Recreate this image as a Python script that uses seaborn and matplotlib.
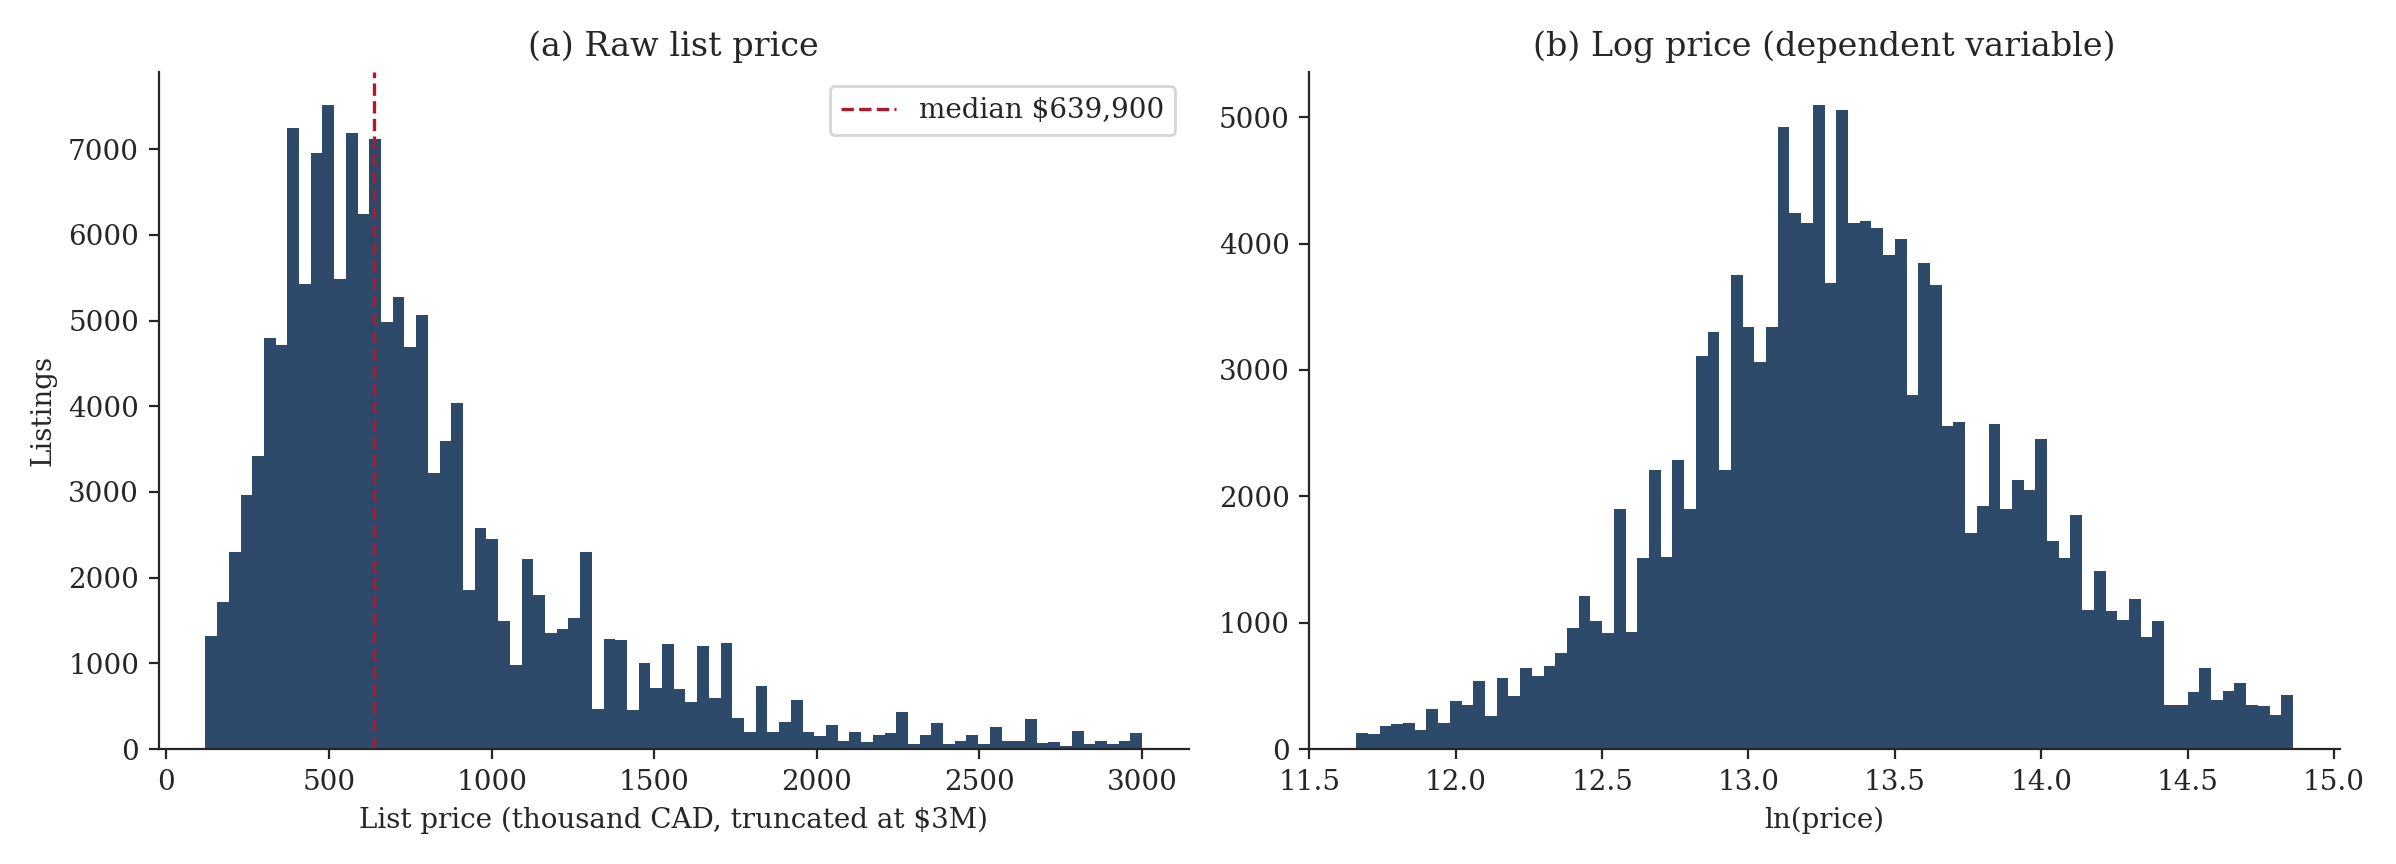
import numpy as np
import pandas as pd
import matplotlib
matplotlib.use("Agg")
import matplotlib.pyplot as plt
import seaborn as sns

# Raw list price histogram (thousand CAD), bins of 36k from 120k to 3M
raw_start, raw_width = 120, 36
raw_counts = [1320, 1720, 2300, 2960, 3420, 4800, 4720, 7250, 5430, 6950,
              7520, 5490, 7190, 6240, 7120, 4980, 5280, 4690, 5060, 3220,
              3600, 4040, 1860, 2580, 2450, 1500, 980, 2220, 1800, 1360,
              1400, 1530, 2300, 470, 1280, 1270, 460, 1010, 710, 1230,
              700, 550, 1200, 600, 1240, 360, 200, 740, 200, 320,
              570, 200, 150, 280, 100, 200, 80, 170, 190, 430,
              60, 170, 310, 60, 90, 170, 60, 260, 90, 100,
              350, 70, 80, 40, 210, 60, 100, 60, 90, 190]
median_price = 639.9

# Log price histogram
log_start, log_width = 11.66, 0.04
log_counts = [130, 120, 180, 200, 210, 150, 320, 210, 380, 350,
              540, 260, 560, 420, 640, 580, 660, 760, 960, 1210,
              1010, 920, 1900, 930, 1510, 2210, 1520, 2290, 1900, 3110,
              3300, 2210, 3750, 3340, 3060, 3340, 4920, 4240, 4160, 5100,
              3690, 5060, 4160, 4180, 4120, 3910, 4040, 2800, 3850, 3670,
              2560, 2590, 1710, 1920, 2570, 1900, 2130, 2050, 2450, 1650,
              1510, 1850, 1100, 1410, 1090, 1020, 1190, 890, 1010, 350,
              350, 450, 640, 390, 460, 520, 350, 340, 270, 430]

BAR = "#2e4a6b"
RED = "#b2182b"

sns.set_style("ticks")
plt.rcParams["font.family"] = ["DejaVu Serif"]
plt.rcParams["font.size"] = 10


def hist_panel(ax, start, width, counts):
    n = len(counts)
    centers = start + width * (np.arange(n) + 0.5)
    df = pd.DataFrame({"x": centers, "w": np.asarray(counts, dtype=float)})
    sns.histplot(data=df, x="x", weights="w", binwidth=width,
                 binrange=(start, start + width * n), ax=ax,
                 color=BAR, alpha=1, edgecolor="none", linewidth=0)


fig, axes = plt.subplots(1, 2, figsize=(11.98, 4.32), dpi=200)

ax = axes[0]
hist_panel(ax, raw_start, raw_width, raw_counts)
ax.axvline(median_price, color=RED, ls="--", lw=1.2,
           label="median $639,900")
ax.legend(loc="upper right", fontsize=10)
ax.set_title("(a) Raw list price", fontsize=12)
ax.set_xlabel("List price (thousand CAD, truncated at $3M)")
ax.set_ylabel("Listings")
ax.set_xticks([0, 500, 1000, 1500, 2000, 2500, 3000])

ax = axes[1]
hist_panel(ax, log_start, log_width, log_counts)
ax.set_title("(b) Log price (dependent variable)", fontsize=12)
ax.set_xlabel("ln(price)")
ax.set_ylabel("")
ax.set_xticks([11.5, 12.0, 12.5, 13.0, 13.5, 14.0, 14.5, 15.0])

for a in axes:
    sns.despine(ax=a)

plt.tight_layout()
plt.savefig("out.png", dpi=200)
